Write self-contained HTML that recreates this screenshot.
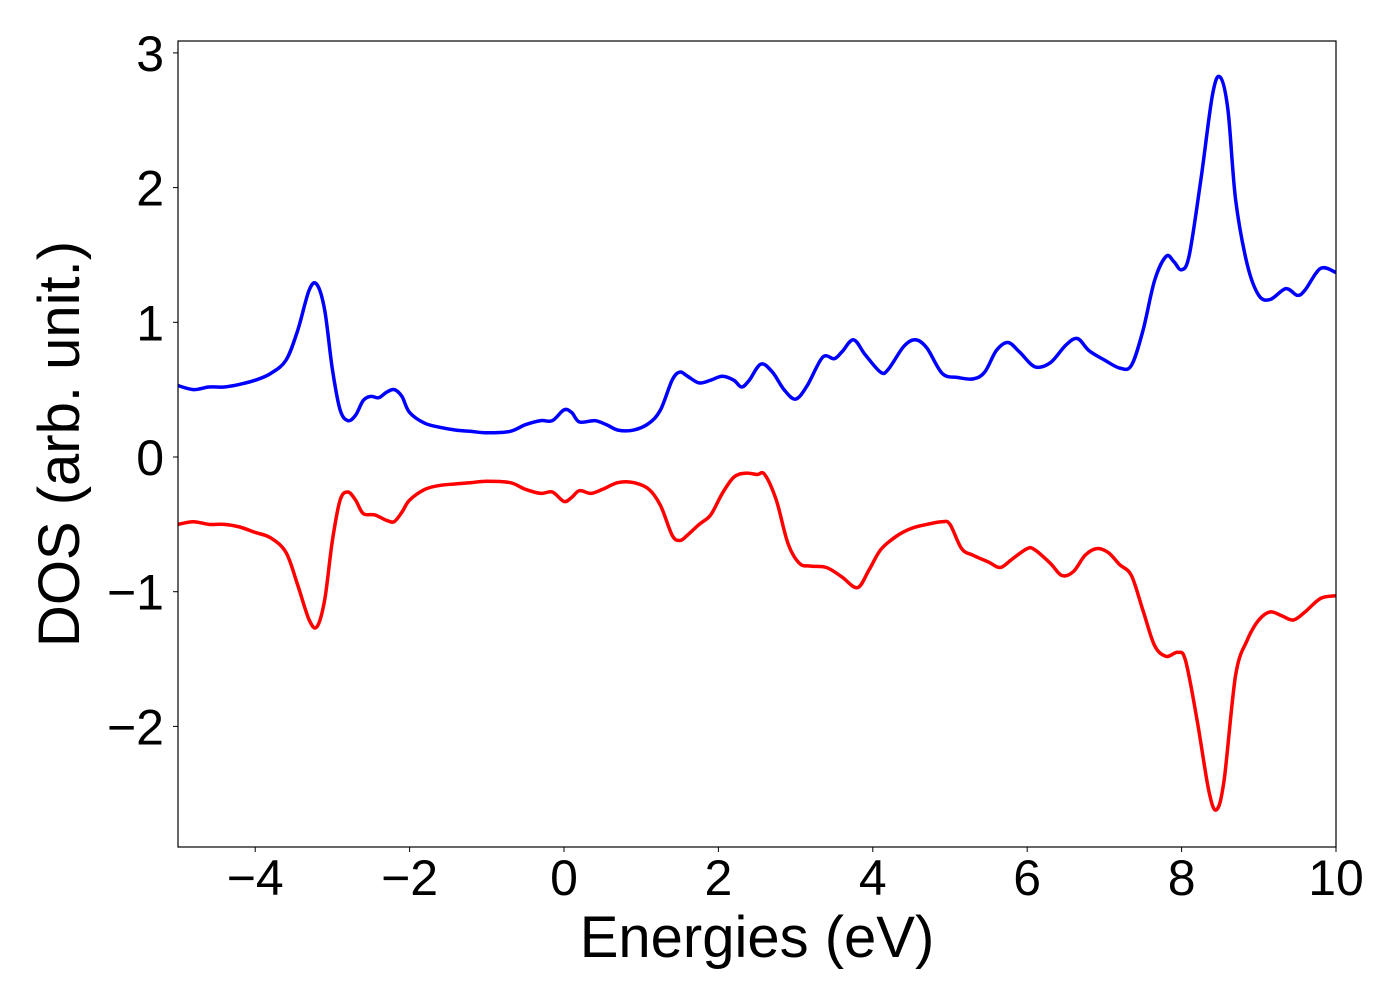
<!DOCTYPE html>
<html><head><meta charset="utf-8"><style>
html,body{margin:0;padding:0;background:#fff;}
svg{display:block;font-family:"Liberation Sans","DejaVu Sans",sans-serif;}
</style></head><body>
<svg id="chart" width="1400" height="1000" viewBox="0 0 1400 1000" xmlns="http://www.w3.org/2000/svg">
<rect x="0" y="0" width="1400" height="1000" fill="#fff"/>
<g id="series"></g>
<rect x="178" y="41" width="1158" height="806" fill="none" stroke="#000" stroke-width="1.2"/>
<g id="xticks"></g><g id="yticks"></g>
<text x="757" y="957" font-size="58" text-anchor="middle">Energies (eV)</text>
<text transform="translate(79,444) rotate(-90)" font-size="58" text-anchor="middle">DOS (arb. unit.)</text>
</svg>
<script>
const xTicks=[-4,-2,0,2,4,6,8,10];
const yTicks=[-2,-1,0,1,2,3];
const upE=[-5,-4.8,-4.6,-4.4,-4.2,-4,-3.8,-3.6,-3.45,-3.3,-3.2,-3.1,-3,-2.9,-2.8,-2.7,-2.6,-2.5,-2.4,-2.3,-2.2,-2.1,-2,-1.8,-1.6,-1.4,-1.2,-1,-0.7,-0.5,-0.3,-0.15,0,0.1,0.2,0.4,0.55,0.7,0.9,1.1,1.25,1.4,1.5,1.6,1.75,1.9,2.05,2.2,2.3,2.4,2.55,2.7,2.85,3,3.15,3.35,3.5,3.6,3.75,3.9,4.1,4.2,4.4,4.55,4.7,4.9,5.1,5.3,5.45,5.6,5.75,5.9,6.1,6.3,6.5,6.65,6.8,7,7.2,7.35,7.5,7.65,7.8,7.9,8,8.1,8.25,8.4,8.5,8.6,8.7,8.85,9,9.15,9.35,9.5,9.6,9.8,10];
const upDOS=[0.53,0.5,0.52,0.52,0.54,0.57,0.62,0.72,0.94,1.24,1.28,1.09,0.65,0.35,0.27,0.31,0.42,0.45,0.44,0.48,0.5,0.45,0.33,0.25,0.22,0.2,0.19,0.18,0.19,0.24,0.27,0.27,0.35,0.33,0.26,0.27,0.24,0.2,0.2,0.25,0.35,0.57,0.63,0.6,0.55,0.57,0.6,0.57,0.52,0.57,0.69,0.63,0.5,0.43,0.53,0.74,0.73,0.78,0.87,0.76,0.63,0.65,0.82,0.87,0.81,0.62,0.59,0.58,0.63,0.79,0.85,0.78,0.67,0.7,0.83,0.88,0.79,0.72,0.66,0.68,0.94,1.31,1.49,1.45,1.39,1.5,2.06,2.69,2.82,2.58,1.91,1.43,1.2,1.17,1.25,1.2,1.24,1.4,1.37];
const dnE=[-5,-4.8,-4.6,-4.4,-4.2,-4,-3.8,-3.6,-3.45,-3.3,-3.2,-3.1,-3,-2.9,-2.8,-2.7,-2.6,-2.45,-2.3,-2.2,-2.1,-2,-1.8,-1.6,-1.4,-1.2,-1,-0.7,-0.5,-0.3,-0.15,0,0.1,0.2,0.35,0.5,0.7,0.9,1.1,1.25,1.4,1.5,1.6,1.75,1.9,2.05,2.2,2.35,2.5,2.6,2.75,2.9,3.05,3.2,3.4,3.6,3.8,3.95,4.1,4.3,4.5,4.7,4.9,5,5.15,5.3,5.5,5.65,5.8,6,6.1,6.3,6.45,6.6,6.75,6.9,7.05,7.2,7.35,7.5,7.65,7.8,7.95,8.05,8.2,8.35,8.45,8.55,8.7,8.85,9,9.15,9.3,9.45,9.6,9.8,10];
const dnDOS=[-0.5,-0.48,-0.5,-0.5,-0.52,-0.56,-0.6,-0.71,-0.95,-1.21,-1.26,-1.06,-0.62,-0.32,-0.26,-0.32,-0.42,-0.43,-0.47,-0.48,-0.41,-0.32,-0.24,-0.21,-0.2,-0.19,-0.18,-0.19,-0.24,-0.27,-0.26,-0.33,-0.3,-0.25,-0.27,-0.24,-0.19,-0.19,-0.24,-0.36,-0.58,-0.62,-0.58,-0.5,-0.43,-0.27,-0.15,-0.12,-0.13,-0.13,-0.32,-0.64,-0.79,-0.81,-0.82,-0.89,-0.97,-0.84,-0.69,-0.59,-0.53,-0.5,-0.48,-0.5,-0.68,-0.73,-0.78,-0.82,-0.76,-0.68,-0.69,-0.79,-0.88,-0.85,-0.73,-0.68,-0.71,-0.8,-0.88,-1.14,-1.4,-1.48,-1.45,-1.51,-1.95,-2.47,-2.62,-2.4,-1.62,-1.36,-1.21,-1.15,-1.18,-1.21,-1.15,-1.05,-1.03];
const X0=178,X1=1336,xMin=-5,xMax=10;
const Y0=457,YPU=134.7;
function sx(v){return X0+(v-xMin)/(xMax-xMin)*(X1-X0);}
function sy(v){return Y0-v*YPU;}
const NS="http://www.w3.org/2000/svg";
function path(xs,ys){
  const p=xs.map((x,i)=>[sx(x),sy(ys[i])]);
  let d="M"+p[0][0].toFixed(1)+","+p[0][1].toFixed(1);
  for(let i=0;i<p.length-1;i++){
    const a=p[Math.max(i-1,0)],b=p[i],c=p[i+1],e=p[Math.min(i+2,p.length-1)];
    const c1=[b[0]+(c[0]-a[0])/6,b[1]+(c[1]-a[1])/6],c2=[c[0]-(e[0]-b[0])/6,c[1]-(e[1]-b[1])/6];
    d+="C"+c1[0].toFixed(1)+","+c1[1].toFixed(1)+" "+c2[0].toFixed(1)+","+c2[1].toFixed(1)+" "+c[0].toFixed(1)+","+c[1].toFixed(1);
  }
  return d;
}
const sg=document.getElementById("series");
const cp=document.createElementNS(NS,"clipPath");cp.setAttribute("id","clip");
const cr=document.createElementNS(NS,"rect");cr.setAttribute("x",X0);cr.setAttribute("y",41);cr.setAttribute("width",X1-X0);cr.setAttribute("height",806);
cp.appendChild(cr);sg.appendChild(cp);
[[upE,upDOS,"#0000ff","dos-spin-up-line"],[dnE,dnDOS,"#ff0000","dos-spin-down-line"]].forEach(s=>{
  const el=document.createElementNS(NS,"path");
  el.setAttribute("d",path(s[0],s[1]));el.setAttribute("fill","none");el.setAttribute("stroke",s[2]);
  el.setAttribute("stroke-width","3.5");el.setAttribute("clip-path","url(#clip)");el.setAttribute("stroke-linejoin","round");
  
  
  sg.appendChild(el);
});
const xg=document.getElementById("xticks");
xTicks.forEach(t=>{
  const x=sx(t);
  const l=document.createElementNS(NS,"line");
  l.setAttribute("x1",x);l.setAttribute("x2",x);l.setAttribute("y1",847);l.setAttribute("y2",852);l.setAttribute("stroke","#000");
  
  
  xg.appendChild(l);
  const tx=document.createElementNS(NS,"text");
  tx.setAttribute("x",x);tx.setAttribute("y",895);tx.setAttribute("font-size","50");tx.setAttribute("text-anchor","middle");
  tx.textContent=(t<0?"\u2212":"")+Math.abs(t);
  
  
  xg.appendChild(tx);
});
const yg=document.getElementById("yticks");
yTicks.forEach(t=>{
  const y=sy(t);
  const l=document.createElementNS(NS,"line");
  l.setAttribute("x1",173);l.setAttribute("x2",178);l.setAttribute("y1",y);l.setAttribute("y2",y);l.setAttribute("stroke","#000");
  
  
  yg.appendChild(l);
  const tx=document.createElementNS(NS,"text");
  tx.setAttribute("x",164);tx.setAttribute("y",y+18);tx.setAttribute("font-size","50");tx.setAttribute("text-anchor","end");
  tx.textContent=(t<0?"\u2212":"")+Math.abs(t);
  
  
  yg.appendChild(tx);
});
</script>
</body></html>
